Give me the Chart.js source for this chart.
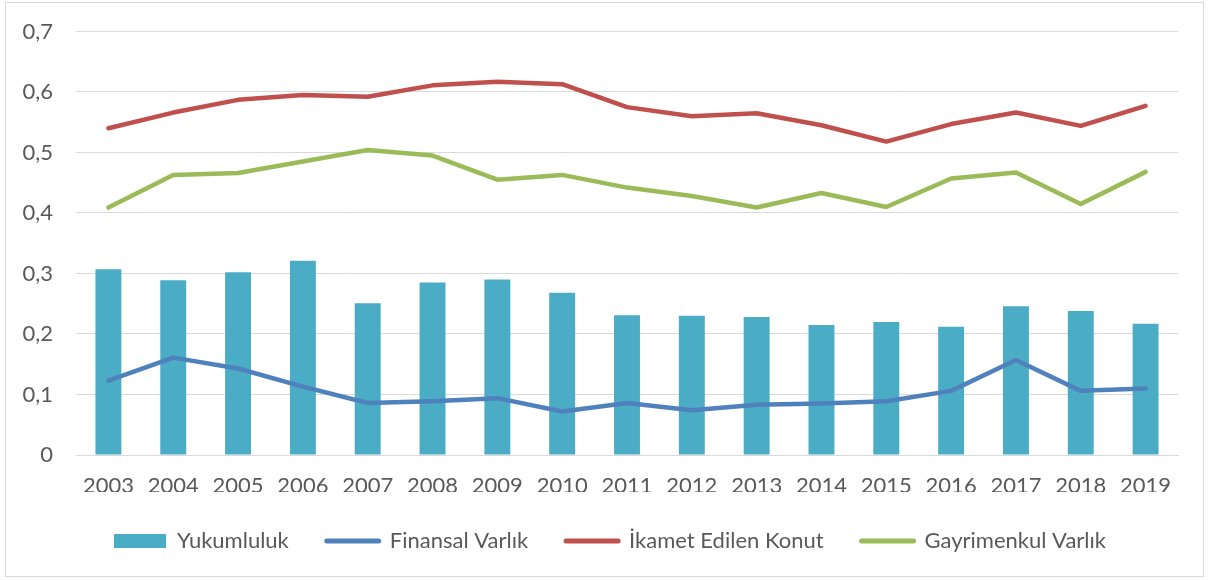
<!DOCTYPE html>
<html>
<head>
<meta charset="utf-8">
<script src="https://cdn.jsdelivr.net/npm/chart.js@4"></script>
<style>
  html, body { margin: 0; padding: 0; background: #ffffff; }
  #wrap { position: relative; width: 1208px; height: 580px; }
</style>
</head>
<body>
<div id="wrap"><canvas id="c" width="1208" height="580"></canvas></div>
<script>
const years = ['2003','2004','2005','2006','2007','2008','2009','2010','2011','2012','2013','2014','2015','2016','2017','2018','2019'];
const yukumluluk = [0.307,0.289,0.302,0.321,0.251,0.285,0.290,0.268,0.231,0.230,0.228,0.215,0.220,0.212,0.246,0.238,0.217];
const finansalVarlik = [0.123,0.161,0.143,0.113,0.086,0.089,0.094,0.072,0.086,0.074,0.083,0.085,0.089,0.106,0.157,0.106,0.110];
const ikametEdilenKonut = [0.540,0.566,0.587,0.595,0.592,0.611,0.617,0.613,0.575,0.560,0.565,0.545,0.518,0.547,0.566,0.544,0.577];
const gayrimenkulVarlik = [0.409,0.463,0.466,0.485,0.504,0.495,0.455,0.463,0.442,0.428,0.409,0.433,0.410,0.457,0.467,0.415,0.468];
const seriesNames = ['Yukumluluk','Finansal Varlık','İkamet Edilen Konut','Gayrimenkul Varlık'];
const yTickValues = [0,0.1,0.2,0.3,0.4,0.5,0.6,0.7];

const COLORS = { bar: '#4BACC6', blue: '#4F81BD', red: '#C0504D', green: '#9BBB59' };
const TEXT = '#595959';
const FONT = 'Lato';
const FS = 22;
const LEG_PAD = 38;

const borderPlugin = {
  id: 'outerBorder',
  beforeDraw(chart) {
    // centre the legend row under the whole chart frame (as in the reference)
    if (chart.legend) { chart.legend.left = 42; }
    const ctx = chart.ctx;
    ctx.save();
    ctx.fillStyle = '#ffffff';
    ctx.fillRect(0, 0, chart.width, chart.height);
    ctx.strokeStyle = '#d9d9d9';
    ctx.lineWidth = 1;
    ctx.strokeRect(5.5, 2.5, 1198, 574);
    ctx.restore();
  }
};

const lineDs = (label, data, color) => ({
  type: 'line', label, data,
  borderColor: color, backgroundColor: color,
  borderWidth: 4.5, pointRadius: 0, pointHoverRadius: 0,
  tension: 0, borderCapStyle: 'round', borderJoinStyle: 'round',
  fill: false, order: 0
});

new Chart(document.getElementById('c'), {
  type: 'bar',
  data: {
    labels: years,
    datasets: [
      { type: 'bar', label: seriesNames[0], data: yukumluluk, backgroundColor: COLORS.bar,
        barPercentage: 0.4, categoryPercentage: 1.0, order: 1 },
      lineDs(seriesNames[1], finansalVarlik, COLORS.blue),
      lineDs(seriesNames[2], ikametEdilenKonut, COLORS.red),
      lineDs(seriesNames[3], gayrimenkulVarlik, COLORS.green)
    ]
  },
  options: {
    responsive: false,
    animation: false,
    devicePixelRatio: 1,
    layout: { padding: { top: 31.5, right: 30, bottom: 28, left: 0 } },
    scales: {
      x: {
        offset: true,
        grid: { display: false, drawTicks: false },
        border: { display: true, color: '#d9d9d9', width: 1 },
        ticks: { color: TEXT, font: { family: FONT, size: FS }, padding: 18, maxRotation: 0, autoSkip: false },
        afterFit(s) { s.height = 37; s.paddingLeft = 0; s.paddingRight = 0; }
      },
      y: {
        min: 0, max: 0.7,
        afterBuildTicks(s) { s.ticks = yTickValues.map(v => ({ value: v })); },
        grid: { color: '#d9d9d9', lineWidth: 1, drawTicks: false },
        border: { display: false },
        ticks: {
          color: TEXT, font: { family: FONT, size: FS }, padding: 23,
          callback: v => v === 0 ? '0' : Number(v).toFixed(1).replace('.', ',')
        },
        afterFit(s) { s.width = 76; s.paddingTop = 0; s.paddingBottom = 0; }
      }
    },
    plugins: {
      tooltip: { enabled: false },
      legend: {
        position: 'bottom',
        maxHeight: 60,
        labels: {
          usePointStyle: true,
          pointStyleWidth: 52,
          boxHeight: 14,
          padding: LEG_PAD,
          color: TEXT,
          font: { family: FONT, size: FS },
          generateLabels(chart) {
            const ds = chart.data.datasets;
            return ds.map((d, i) => ({
              text: d.label,
              datasetIndex: i,
              fontColor: TEXT,
              hidden: false,
              pointStyle: d.type === 'bar' ? 'rect' : 'line',
              fillStyle: d.type === 'bar' ? d.backgroundColor : d.borderColor,
              strokeStyle: d.type === 'bar' ? d.backgroundColor : d.borderColor,
              lineWidth: d.type === 'bar' ? 0 : 5,
              lineCap: 'round'
            }));
          }
        }
      }
    }
  },
  plugins: [borderPlugin]
});
</script>
</body>
</html>
